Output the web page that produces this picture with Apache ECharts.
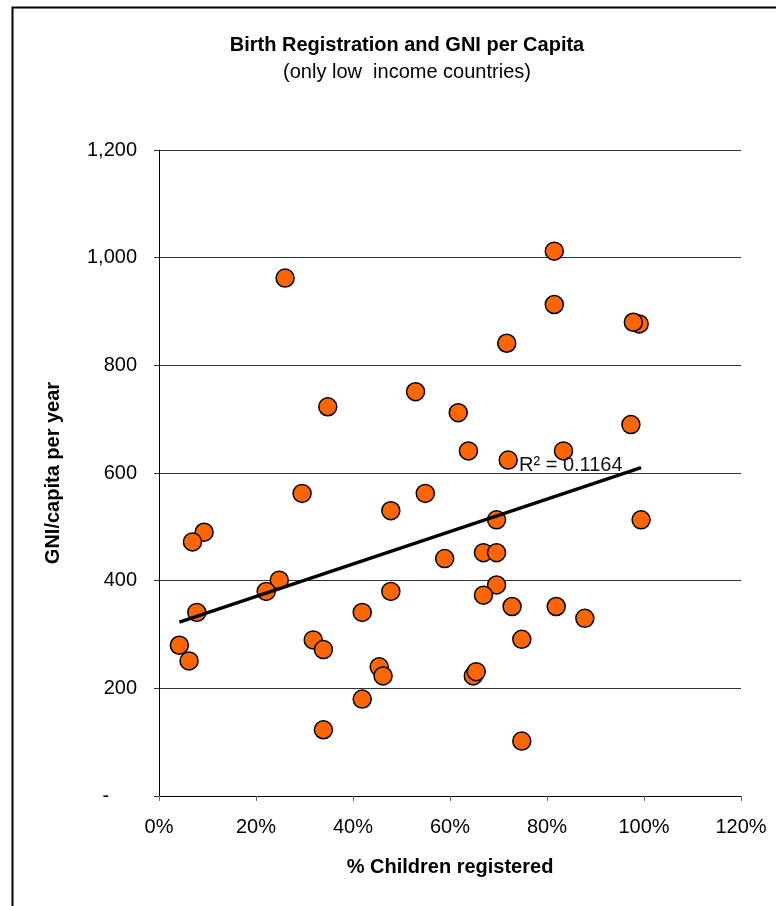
<!DOCTYPE html>
<html>
<head>
<meta charset="utf-8">
<script src="https://cdn.jsdelivr.net/npm/echarts@6/dist/echarts.min.js"></script>
<style>
html,body{margin:0;padding:0;background:#fff;}
#c{width:776px;height:906px;}
</style>
</head>
<body>
<div id="c"></div>
<script>
// % children registered
const registered = [26.0, 34.8, 52.9, 81.5, 81.5, 99.0, 97.8, 71.7, 61.7, 97.3, 63.8, 83.4, 72.0, 29.5, 54.9, 47.8, 9.3, 6.9, 58.9, 24.8, 22.1, 47.8, 7.8, 41.9, 4.2, 6.2, 31.8, 33.9, 45.4, 46.2, 41.9, 33.9, 69.6, 99.4, 66.9, 69.6, 69.6, 66.9, 72.8, 81.9, 87.8, 74.8, 64.8, 65.4, 74.8];
// GNI per capita per year
const gni = [962, 723, 751, 1012, 913, 877, 880, 841, 712, 690, 641, 641, 624, 562, 562, 530, 490, 472, 441, 401, 380, 380, 341, 341, 280, 251, 290, 272, 240, 223, 180, 123, 513, 513, 452, 452, 392, 373, 352, 352, 330, 291, 223, 231, 102];
// linear trendline endpoints
const trendX = [4.2, 99.4];
const trendY = [323, 610];
const xTicks = [0, 20, 40, 60, 80, 100, 120];
const yTicks = [0, 200, 400, 600, 800, 1000, 1200];
const r2Label = 'R\u00B2 = 0.1164';

const points = registered.map((v, i) => [v, gni[i]]);
const trend = trendX.map((v, i) => [v, trendY[i]]);
const FONT = 'Liberation Sans, Arial, sans-serif';

function fmtNum(v) {
  if (v === 0) return '-     ';
  return String(v).replace(/\B(?=(\d{3})+(?!\d))/g, ',');
}

const chart = echarts.init(document.getElementById('c'), null, {renderer: 'canvas'});
chart.setOption({
  animation: false,
  backgroundColor: '#fff',
  title: [
    {text: 'Birth Registration and GNI per Capita', left: 402, top: 30, textAlign: 'center',
     textStyle: {fontFamily: FONT, fontSize: 20, fontWeight: 'bold', color: '#000'}},
    {text: '(only low  income countries)', left: 402, top: 57, textAlign: 'center',
     textStyle: {fontFamily: FONT, fontSize: 20, fontWeight: 'normal', color: '#000'}}
  ],
  grid: {left: 159, right: 35, top: 150, bottom: 110, containLabel: false},
  xAxis: {
    type: 'value', min: xTicks[0], max: xTicks[xTicks.length - 1], interval: 20,
    name: '% Children registered', nameLocation: 'middle', nameGap: 61,
    nameTextStyle: {fontFamily: FONT, fontSize: 20, fontWeight: 'bold', color: '#000'},
    axisLine: {show: true, lineStyle: {color: '#000', width: 1}},
    axisTick: {show: true, inside: false, length: 5, lineStyle: {color: '#666'}},
    axisLabel: {formatter: '{value}%', margin: 21, fontFamily: FONT, fontSize: 20, color: '#000'},
    splitLine: {show: false}
  },
  yAxis: {
    type: 'value', min: yTicks[0], max: yTicks[yTicks.length - 1], interval: 200,
    name: 'GNI/capita per year', nameLocation: 'middle', nameGap: 96, nameRotate: 90,
    nameTextStyle: {fontFamily: FONT, fontSize: 20, fontWeight: 'bold', color: '#000'},
    axisLine: {show: true, lineStyle: {color: '#000', width: 1}},
    axisTick: {show: true, inside: false, length: 5, lineStyle: {color: '#333'}},
    axisLabel: {formatter: fmtNum, margin: 22, fontFamily: FONT, fontSize: 20, color: '#000'},
    splitLine: {show: true, lineStyle: {color: '#333', width: 1}}
  },
  series: [
    {
      type: 'scatter', data: points, symbol: 'circle', symbolSize: 18, z: 2,
      itemStyle: {color: '#FF6600', borderColor: '#000', borderWidth: 1.5, opacity: 1}
    },
    {
      type: 'line', data: trend, symbol: 'none', z: 3,
      lineStyle: {color: '#000', width: 3.3}
    }
  ],
  graphic: [
    {type: 'rect', left: 10, top: 5, shape: {x: 0, y: 0, width: 900, height: 1000},
     style: {fill: null, stroke: '#000', lineWidth: 2}, silent: true, z: 100},
    {type: 'text', left: 519, top: 455, z: 50,
     style: {text: r2Label, fill: '#111', font: '20px ' + FONT}}
  ]
});
</script>
</body>
</html>
